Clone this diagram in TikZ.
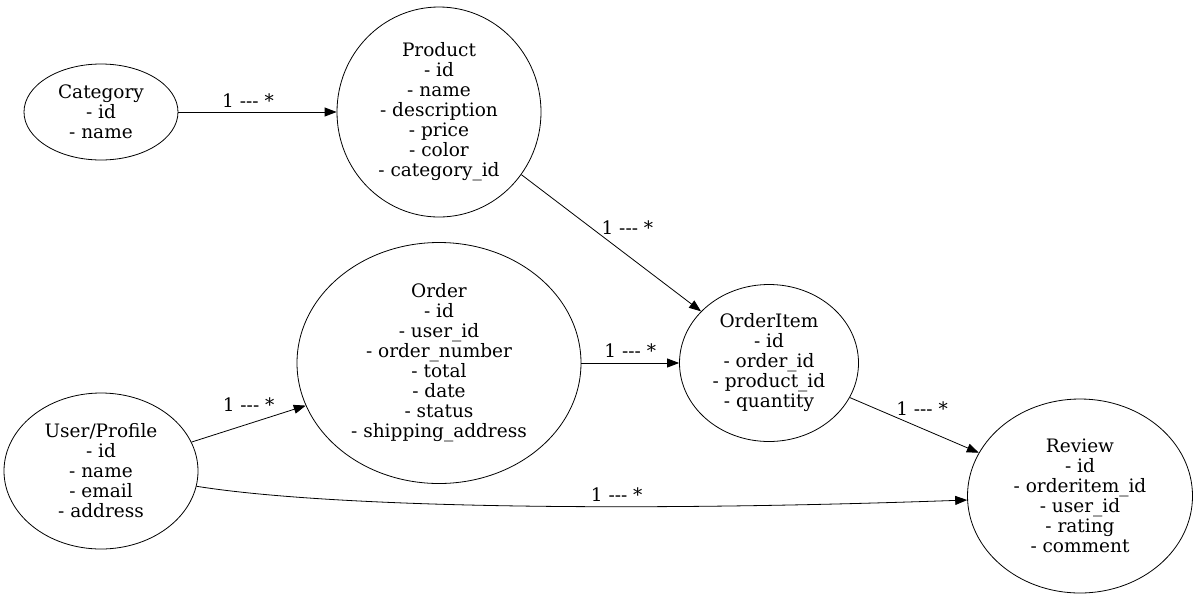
\documentclass[tikz,border=0pt]{standalone}
\usepackage{fontspec}
\setmainfont{DejaVu Serif}
\usetikzlibrary{%
  arrows.meta,%
  shapes.geometric%
}
\tikzset{>={Triangle[length=12pt,width=9pt]}, entity/.style = {draw, ellipse,
      inner sep=0pt, align=center, line width=0.8pt,
      font=\fontsize{18.5}{20}\selectfont},%
    rel/.style={->, line width=0.8pt},%
    card/.style={font=\fontsize{18.5}{20}\selectfont, inner sep=1pt}}

\begin{document}
\begin{tikzpicture}[x=1pt,y=-1pt]
    \useasboundingbox (0,0) rectangle (1197,598);
    \node[entity, minimum width=154pt, minimum height=96pt] (category) at (101,112)
    {Category\\- id\\- name};
    \node[entity, minimum width=204pt, minimum height=210pt] (product) at (439,112)
    {Product\\- id\\- name\\- description\\- price\\- color\\- category\_id};
    \node[entity, minimum width=284pt, minimum height=241pt] (order) at (439,363)
    {Order\\- id\\- user\_id\\- order\_number\\- total\\- date\\- status\\- shipping\_address};
    \node[entity, minimum width=179pt, minimum height=157pt] (orderitem) at (769,363)
    {OrderItem\\- id\\- order\_id\\- product\_id\\- quantity};
    \node[entity, minimum width=194pt, minimum height=156pt] (user) at (101,471)
    {User/Profile\\- id\\- name\\- email\\- address};
    \node[entity, minimum width=225pt, minimum height=194pt] (review) at (1080,496)
    {Review\\- id\\- orderitem\_id\\- user\_id\\- rating\\- comment};
    % связи
    \draw[rel] (category) -- (product) node[card, pos=0.44, yshift=11pt] {1 -{}-{}- *};
    \draw[rel] (product) -- (orderitem) node[card, pos=0.59, yshift=28pt] {1 -{}-{}- *};
    \draw[rel] (order) -- (orderitem) node[card, midway, yshift=12pt] {1 -{}-{}- *};
    \draw[rel] (user) -- (order) node[card, pos=0.5, yshift=19pt] {1 -{}-{}- *};
    \draw[rel] (orderitem) -- (review) node[card, pos=0.56, yshift=20pt] {1 -{}-{}- *};
    \draw[rel] (user) .. controls (320,506) and (600,513) .. (review)
      node[card, pos=0.65, yshift=12pt] {1 -{}-{}- *};
  \end{tikzpicture}
\end{document}
